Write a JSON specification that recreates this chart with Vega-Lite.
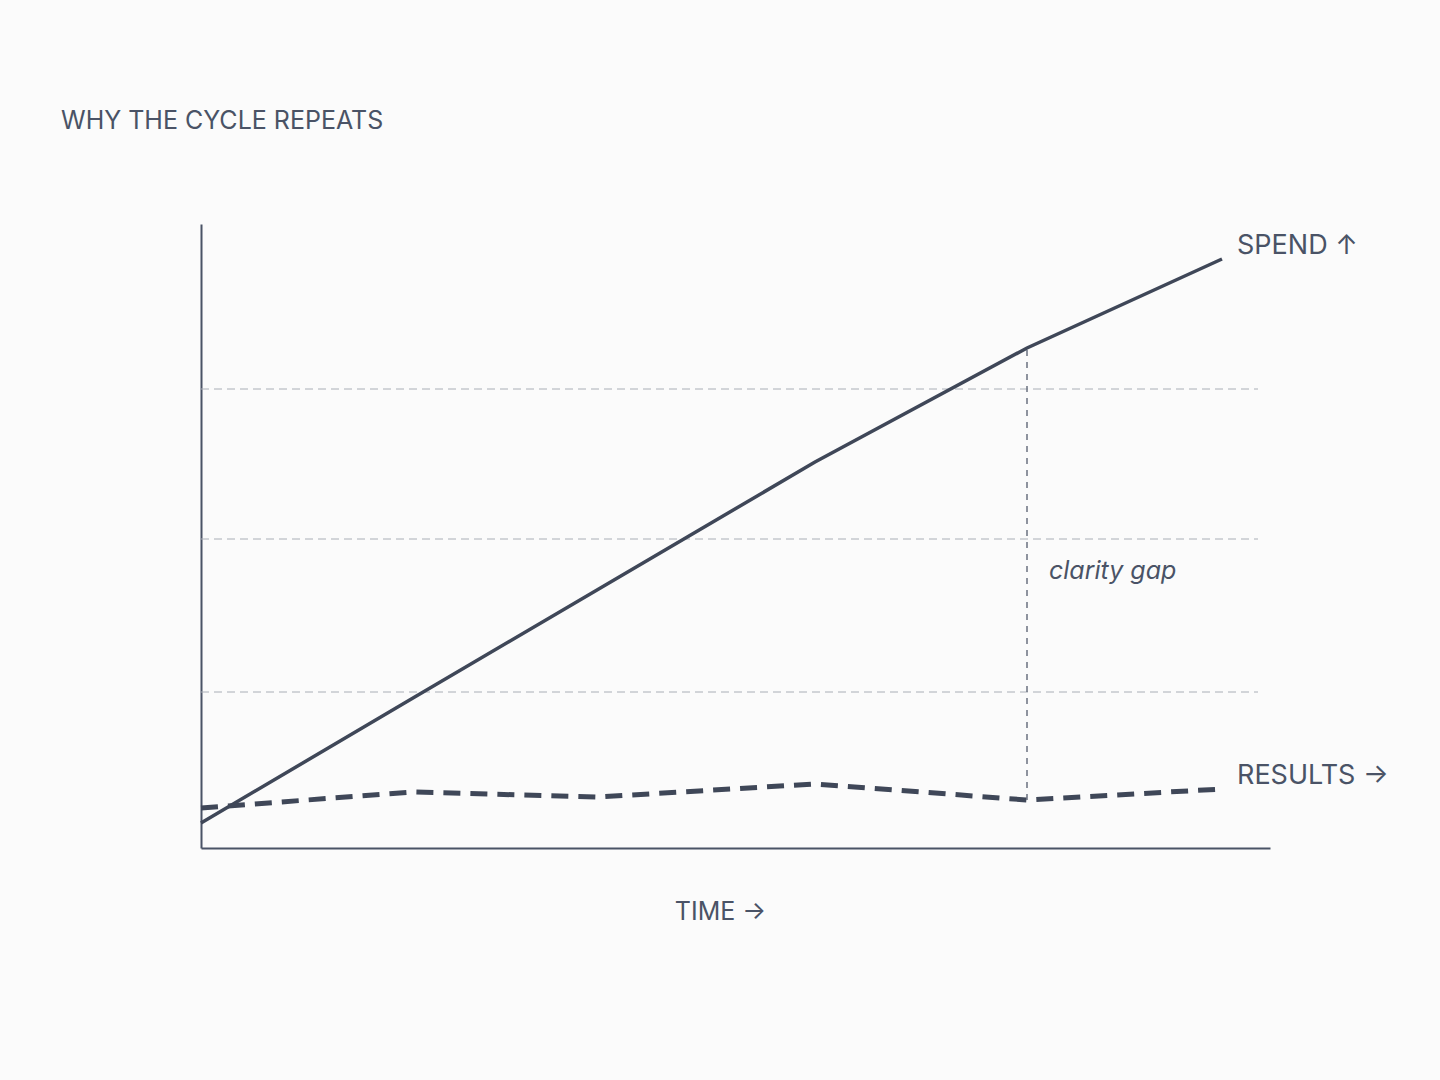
{
  "$schema": "https://vega.github.io/schema/vega-lite/v6.json",
  "description": "Spend keeps rising over time while results stay flat, leaving a clarity gap.",
  "width": 1069,
  "height": 624,
  "autosize": {"type": "none"},
  "padding": {"left": 201, "top": 224, "right": 170, "bottom": 232},
  "background": "#fbfbfb",
  "title": {
    "text": "WHY THE CYCLE REPEATS",
    "anchor": "start",
    "frame": "group",
    "dx": -140,
    "offset": 90,
    "font": "Inter",
    "fontSize": 25,
    "fontWeight": "normal",
    "color": "#4a5366"
  },
  "config": {
    "view": {"stroke": null},
    "font": "Inter"
  },
  "datasets": {
    "series": [
      {"series": "spend", "t": 0, "value": 25},
      {"series": "spend", "t": 212, "value": 150},
      {"series": "spend", "t": 396, "value": 258},
      {"series": "spend", "t": 614, "value": 386},
      {"series": "spend", "t": 826, "value": 500},
      {"series": "spend", "t": 1021, "value": 589},
      {"series": "results", "t": 0, "value": 40},
      {"series": "results", "t": 212, "value": 56},
      {"series": "results", "t": 396, "value": 51},
      {"series": "results", "t": 614, "value": 64},
      {"series": "results", "t": 826, "value": 48},
      {"series": "results", "t": 1021, "value": 59}
    ],
    "grid": [
      {"t0": 0, "t1": 1057, "value": 156},
      {"t0": 0, "t1": 1057, "value": 309},
      {"t0": 0, "t1": 1057, "value": 459}
    ],
    "gap": [
      {"t": 826, "low": 48, "high": 500}
    ],
    "labels": [
      {"t": 1021, "value": 589, "label": "SPEND ↑", "series": "spend"},
      {"t": 1021, "value": 59, "label": "RESULTS →", "series": "results"}
    ],
    "note": [
      {"t": 848, "value": 277, "label": "clarity gap"}
    ]
  },
  "layer": [
    {
      "data": {"name": "grid"},
      "mark": {"type": "rule", "color": "#a9aeb6", "strokeWidth": 1, "strokeDash": [8, 5]},
      "encoding": {
        "x": {"field": "t0", "type": "quantitative", "scale": {"domain": [0, 1069], "nice": false, "zero": false},
          "axis": {"title": "TIME →", "labels": false, "ticks": false, "grid": false, "domain": true,
            "domainColor": "#4a5366", "domainWidth": 2,
            "titleFont": "Inter", "titleFontSize": 25, "titleFontWeight": "normal", "titleColor": "#4a5366",
            "titleX": 519, "titleY": 63, "titleBaseline": "middle", "titleAnchor": "middle"}},
        "x2": {"field": "t1"},
        "y": {"field": "value", "type": "quantitative", "scale": {"domain": [0, 624], "nice": false},
          "axis": {"title": null, "labels": false, "ticks": false, "grid": false, "domain": true,
            "domainColor": "#4a5366", "domainWidth": 2}}
      }
    },
    {
      "data": {"name": "gap"},
      "mark": {"type": "rule", "color": "#6b7280", "strokeWidth": 1.5, "strokeDash": [6, 6]},
      "encoding": {
        "x": {"field": "t", "type": "quantitative"},
        "y": {"field": "low", "type": "quantitative"},
        "y2": {"field": "high"}
      }
    },
    {
      "data": {"name": "series"},
      "transform": [{"filter": "datum.series === 'spend'"}],
      "mark": {"type": "line", "color": "#3f4758", "strokeWidth": 3.5},
      "encoding": {
        "x": {"field": "t", "type": "quantitative"},
        "y": {"field": "value", "type": "quantitative"}
      }
    },
    {
      "data": {"name": "series"},
      "transform": [{"filter": "datum.series === 'results'"}],
      "mark": {"type": "line", "color": "#3f4758", "strokeWidth": 5, "strokeDash": [17, 10]},
      "encoding": {
        "x": {"field": "t", "type": "quantitative"},
        "y": {"field": "value", "type": "quantitative"}
      }
    },
    {
      "data": {"name": "labels"},
      "mark": {"type": "text", "align": "left", "baseline": "middle", "dx": 15, "dy": -13,
        "font": "Inter", "fontSize": 27, "color": "#4a5366"},
      "encoding": {
        "x": {"field": "t", "type": "quantitative"},
        "y": {"field": "value", "type": "quantitative"},
        "text": {"field": "label", "type": "nominal"}
      }
    },
    {
      "data": {"name": "note"},
      "mark": {"type": "text", "align": "left", "baseline": "middle",
        "font": "Inter", "fontSize": 25, "fontStyle": "italic", "color": "#4a5366"},
      "encoding": {
        "x": {"field": "t", "type": "quantitative"},
        "y": {"field": "value", "type": "quantitative"},
        "text": {"field": "label", "type": "nominal"}
      }
    }
  ]
}
